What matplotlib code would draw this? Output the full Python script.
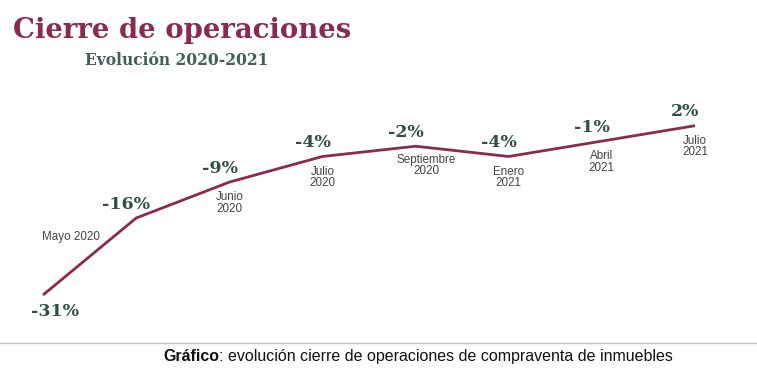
import matplotlib.pyplot as plt
from matplotlib.lines import Line2D

# ------------------------------------------------------------
# Data
# ------------------------------------------------------------
values = [-31, -16, -9, -4, -2, -4, -1, 2]
value_labels = ["-31%", "-16%", "-9%", "-4%", "-2%", "-4%", "-1%", "2%"]
date_labels = ["", "Mayo 2020", "Junio\n2020", "Julio\n2020", "Septiembre\n2020",
               "Enero\n2021", "Abril\n2021", "Julio\n2021"]

# ------------------------------------------------------------
# Styles
# ------------------------------------------------------------
line_color = "#8a2a4f"
value_color = "#2f4f47"
date_color = "#444444"

fig = plt.figure(figsize=(7.57, 3.69), dpi=100)
ax = fig.add_axes([0, 0, 1, 1])
ax.set_axis_off()

# axis limits chosen so the line sits where it does in the picture
px_x = 93.14
px_y = 5.13
ax.set_xlim(-43 / px_x, (757 - 43) / px_x)
ax.set_ylim(-31 - 74 / px_y, -31 + 295 / px_y)

x = list(range(len(values)))
ax.plot(x, values, color=line_color, lw=2.0, solid_capstyle="butt")

# value labels (above the point, except the first one)
for i, (v, lab) in enumerate(zip(values, value_labels)):
    off = (9, -12) if i == 0 else (-7, 10)
    ax.annotate(lab, (i, v), xytext=off, textcoords="offset points",
                ha="center", va="center", fontsize=12.5, fontweight="bold",
                family="DejaVu Serif", color=value_color)

# date labels
for i, (v, lab) in enumerate(zip(values, date_labels)):
    if not lab:
        continue
    if i == 1:
        off = (-47, -14)
    elif i == 4:
        off = (8, -14)
    else:
        off = (0, -15)
    ax.annotate(lab, (i, v), xytext=off, textcoords="offset points",
                ha="center", va="center", fontsize=8.4,
                family="Liberation Sans", color=date_color, linespacing=0.95)

# ------------------------------------------------------------
# Titles
# ------------------------------------------------------------
fig.text(13 / 757, 1 - 38 / 369, "Cierre de operaciones", fontsize=19.8,
         fontweight="bold", family="DejaVu Serif", color=line_color,
         ha="left", va="baseline")
fig.text(85 / 757, 1 - 65 / 369, "Evolución 2020-2021", fontsize=11.2,
         fontweight="bold", family="DejaVu Serif", color="#3f6159",
         ha="left", va="baseline")

# separator line
fig.add_artist(Line2D([0, 1], [1 - 343 / 369] * 2, color="#c4c4c4", lw=1.0,
                      transform=fig.transFigure))

# caption: bold word then regular text
renderer = fig.canvas.get_renderer()
t1 = fig.text(163 / 757, 1 - 361 / 369, "Gráfico", fontsize=11.5,
              fontweight="bold", family="Liberation Sans", color="#111111",
              ha="left", va="baseline")
bb = t1.get_window_extent(renderer=renderer)
fig.text(bb.x1 / fig.bbox.width, 1 - 361 / 369,
         ": evolución cierre de operaciones de compraventa de inmuebles",
         fontsize=11.5, family="Liberation Sans", color="#111111",
         ha="left", va="baseline")

fig.savefig("out.png", dpi=100)
